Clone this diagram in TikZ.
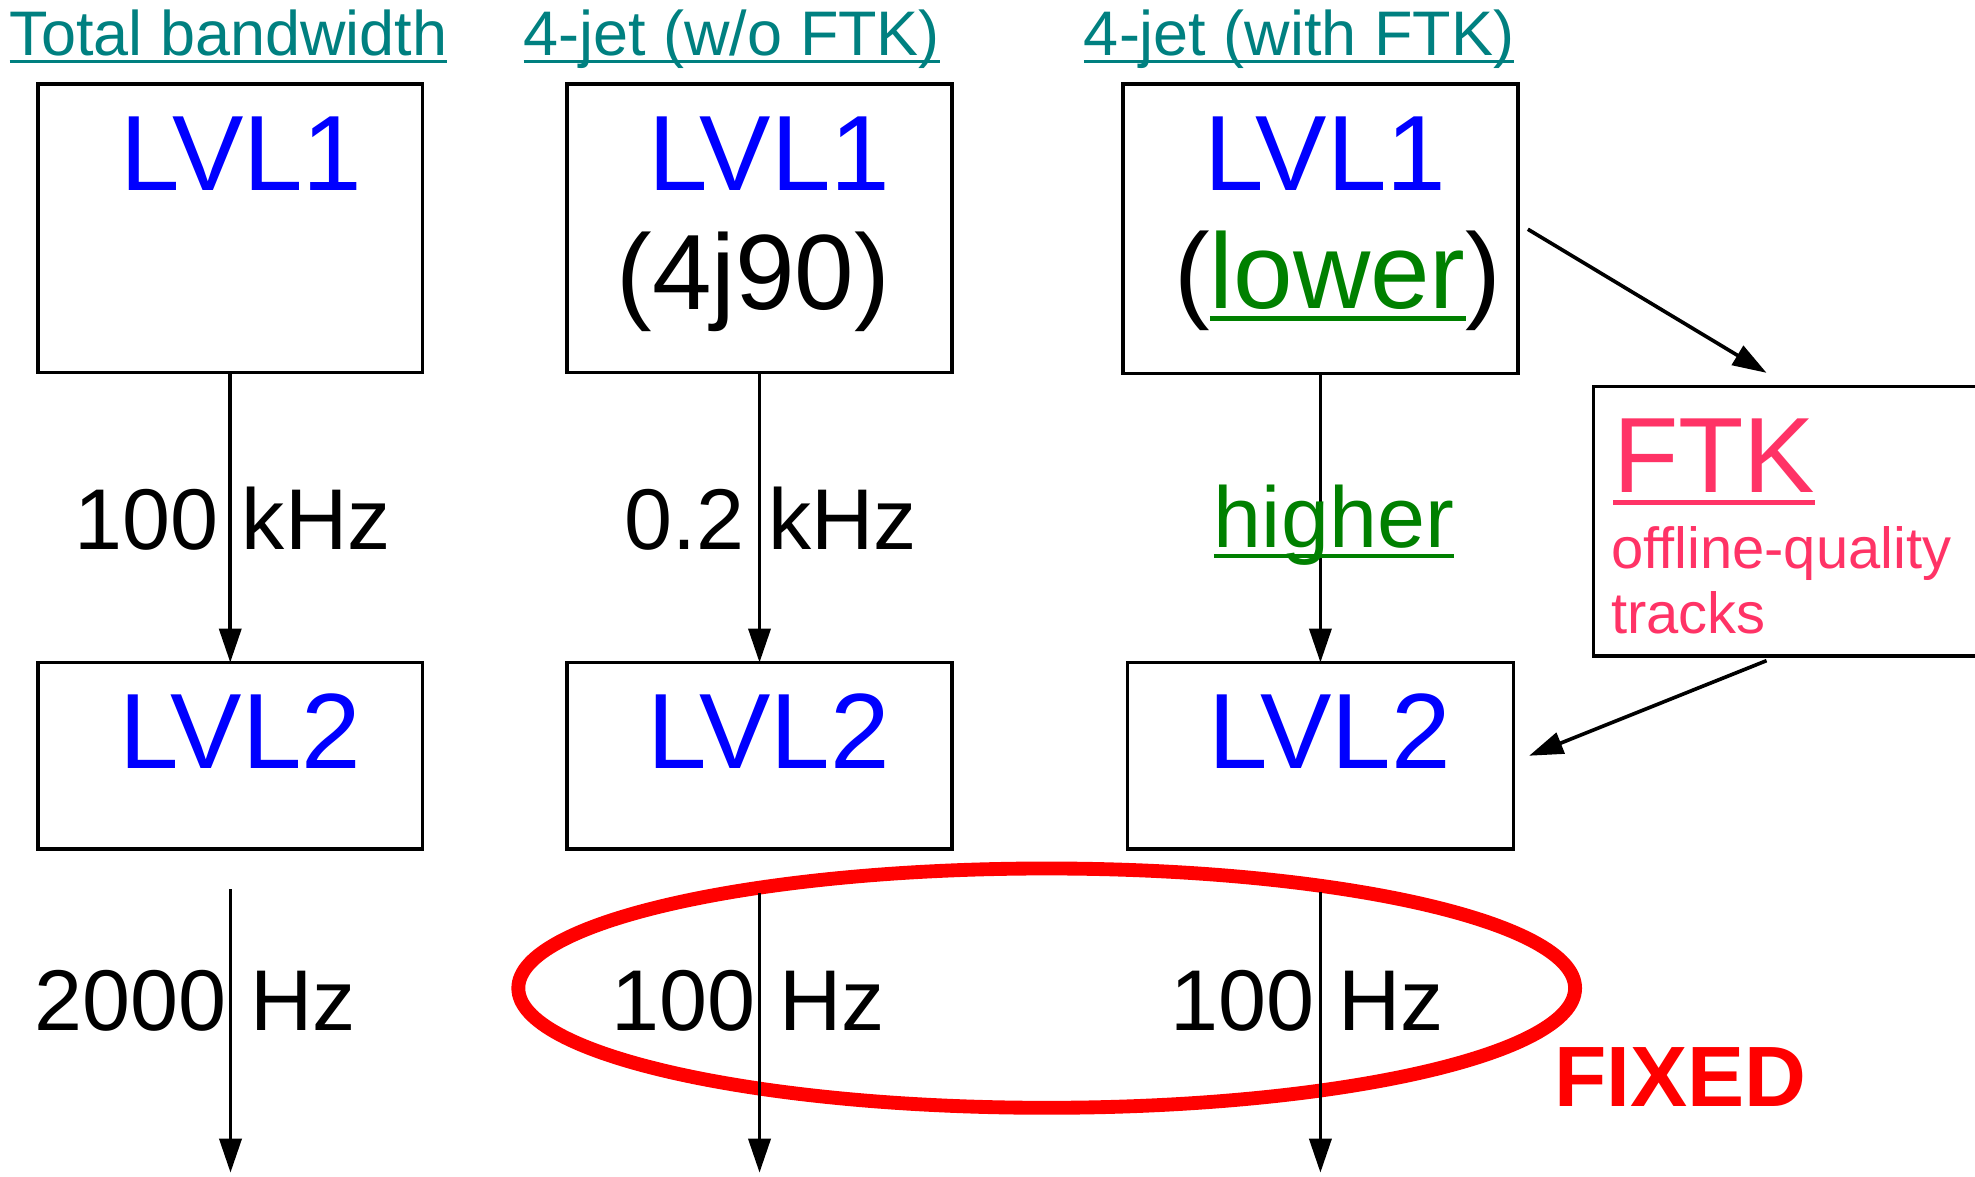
\documentclass[tikz,border=0pt]{standalone}
\usepackage{fontspec}
\setmainfont{Liberation Sans}
\usetikzlibrary{arrows.meta}
\definecolor{titleteal}{RGB}{0,128,128}
\definecolor{lvlblue}{RGB}{0,0,255}
\definecolor{rategreen}{RGB}{0,128,0}
\definecolor{ftkpink}{RGB}{255,51,102}
\definecolor{fixred}{RGB}{255,0,0}

\begin{document}
\begin{tikzpicture}[x=1pt,y=-1pt,
  box/.style={draw=black, line width=2.8pt, inner sep=0pt, outer sep=0pt, rectangle},
  txt/.style={inner sep=0pt, outer sep=0pt},
  title/.style={txt, anchor=base west, text=titleteal, font=\fontsize{50}{55}\selectfont},
  lvl/.style={txt, anchor=base, text=lvlblue, font=\fontsize{85}{90}\selectfont},
  big/.style={txt, anchor=base, font=\fontsize{85}{90}\selectfont},
  rate/.style={txt, anchor=base, font=\fontsize{68.5}{72}\selectfont},
  conn/.style={draw=black, line width=2.9pt, -{Triangle[length=27pt, width=17.5pt]}},
]
\useasboundingbox (0,0) rectangle (1568,934);

% column titles
\node[title] (t1) at (7.6,44) {Total bandwidth};
\node[title] (t2) at (415.7,44) {4-jet (w/o FTK)};
\node[title] (t3) at (860.6,44) {4-jet (with FTK)};
\foreach \t in {t1,t2,t3}
  \draw[titleteal, line width=2.8pt] ([yshift=-5pt]\t.base west) -- ([yshift=-5pt]\t.base east);

% level-1 boxes
\node[box, minimum width=305pt, minimum height=229pt] (l1a) at (182.8,181.3) {};
\node[box, minimum width=306pt, minimum height=229pt] (l1b) at (603,181.3) {};
\node[box, minimum width=313.4pt, minimum height=229.6pt] (l1c) at (1048.3,181.6) {};

% level-2 boxes
\node[box, minimum width=305pt, minimum height=148pt] (l2a) at (182.8,600) {};
\node[box, minimum width=306pt, minimum height=148pt] (l2b) at (603,600) {};
\node[box, minimum width=306.5pt, minimum height=148pt] (l2c) at (1048.3,600) {};

% FTK box, running off the right edge
\node[box, minimum width=310pt, minimum height=214pt] (ftk) at (1420,414) {};

% box texts
\node[lvl] (v1a) at (191.7,151.4) {LVL1};
\node[lvl] (v1b) at (610.6,151.4) {LVL1};
\node[lvl] (v1c) at (1052,151.4) {LVL1};
\node[big] (j90) at (598,246) {(4j90)};
\node[big, text=rategreen] (low) at (1062,245) {lower};
\node[big, anchor=base east] (lpar) at (low.base west) {(};
\node[big, anchor=base west] (rpar) at (low.base east) {)};
\draw[rategreen, line width=4.2pt] ([yshift=-8pt]low.base west) -- ([yshift=-8pt]low.base east);

\node[lvl] (v2a) at (190.6,610) {LVL2};
\node[lvl] (v2b) at (610.4,610) {LVL2};
\node[lvl] (v2c) at (1055.8,610) {LVL2};

\node[txt, anchor=base west, text=ftkpink, font=\fontsize{85}{90}\selectfont] (ftkt) at (1280.6,391) {FTK};
\draw[ftkpink, line width=4pt] ([yshift=-8pt]ftkt.base west) -- ([yshift=-8pt]ftkt.base east);
\node[txt, anchor=base west, text=ftkpink, font=\fontsize{46}{50}\selectfont] (ftk1) at (1279,451) {offline-quality};
\node[txt, anchor=base west, text=ftkpink, font=\fontsize{46}{50}\selectfont] (ftk2) at (1279,503) {tracks};

% level-1 to level-2 rates
\draw[conn] (l1a.south) -- (l2a.north);
\draw[conn] (l1b.south) -- (l2b.north);
\draw[conn] (l1c.south) -- (l2c.north);
\node[rate] (r1a) at (184.5,436) {100 kHz};
\node[rate] (r1b) at (612,436) {0.2 kHz};
\node[rate, text=rategreen] (r1c) at (1059,435) {higher};
\draw[rategreen, line width=3.5pt] ([yshift=-6.6pt]r1c.base west) -- ([yshift=-6.6pt]r1c.base east);

% FTK feed
\coordinate (f1s) at (1213,182);
\coordinate (f1e) at (1402.5,296);
\coordinate (f2s) at (1402.5,524.5);
\coordinate (f2e) at (1214,600);
\draw[conn] (f1s) -- (f1e);
\draw[conn] (f2s) -- (f2e);

% fixed output rates
\draw[fixred, line width=11pt] (831,784.5) ellipse [x radius=419.5pt, y radius=95pt];
\node[txt, anchor=base west, text=fixred, font=\bfseries\fontsize{68}{72}\selectfont] (fixed) at (1234,878.5) {FIXED};

\coordinate (o2a) at (183,706);
\coordinate (o2b) at (603,709);
\coordinate (o2c) at (1048.3,708);
\coordinate (e2a) at (183,931);
\coordinate (e2b) at (603,931);
\coordinate (e2c) at (1048.3,931);
\draw[conn] (o2a) -- (e2a);
\draw[conn] (o2b) -- (e2b);
\draw[conn] (o2c) -- (e2c);
\node[rate] (r2a) at (155,818.5) {2000 Hz};
\node[rate] (r2b) at (594,818.5) {100 Hz};
\node[rate] (r2c) at (1038,818.5) {100 Hz};
\end{tikzpicture}
\end{document}
